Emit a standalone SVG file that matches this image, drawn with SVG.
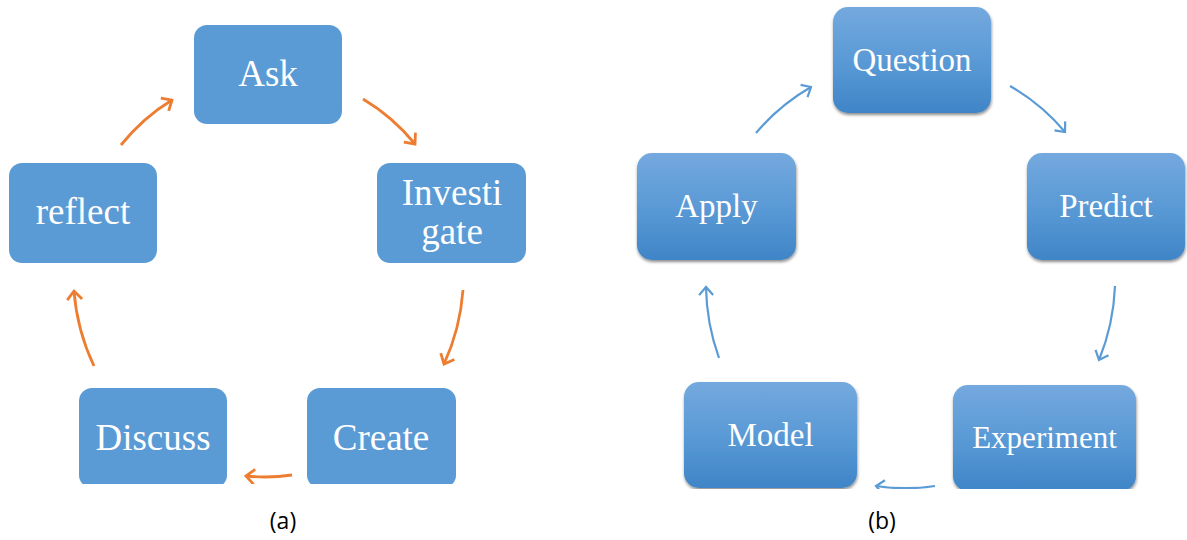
<svg xmlns="http://www.w3.org/2000/svg" width="1187" height="540" viewBox="0 0 1187 540">
<style>
.boxA{fill:#5B9BD5;}
.boxB{fill:url(#gradB);filter:url(#shadow);}
.lblA{font-family:"Liberation Serif","Times New Roman",serif;font-size:37px;fill:#ffffff;text-anchor:middle;}
.lblB{font-family:"Liberation Serif","Times New Roman",serif;font-size:33px;fill:#ffffff;text-anchor:middle;}
.arrA{fill:none;stroke:#ED7D31;stroke-width:2.8;marker-end:url(#headA);}
.arrB{fill:none;stroke:#5B9BD5;stroke-width:2.2;marker-end:url(#headB);}
.cap{font-family:"Open Sans","Liberation Sans",sans-serif;font-size:23px;fill:#000000;text-anchor:middle;}
</style>
<defs>
<linearGradient id="gradB" x1="0" y1="0" x2="0" y2="1">
<stop offset="0" stop-color="#74A9DE"/>
<stop offset="0.5" stop-color="#5A9AD6"/>
<stop offset="1" stop-color="#3F85C7"/>
</linearGradient>
<filter id="shadow" x="-10%" y="-10%" width="120%" height="130%">
<feDropShadow dx="0.5" dy="2" stdDeviation="1.6" flood-color="#000000" flood-opacity="0.45"/>
</filter>
<marker id="headA" viewBox="0 0 20 20" refX="10" refY="10" markerWidth="20" markerHeight="20" markerUnits="userSpaceOnUse" orient="auto" overflow="visible">
<path d="M1.5,2.5 L10,10 L1.5,17.5" fill="none" stroke="#ED7D31" stroke-width="2.8"/>
</marker>
<marker id="headB" viewBox="0 0 20 20" refX="10" refY="10" markerWidth="20" markerHeight="20" markerUnits="userSpaceOnUse" orient="auto" overflow="visible">
<path d="M2,3 L10,10 L2,17" fill="none" stroke="#5B9BD5" stroke-width="2.2"/>
</marker>
<clipPath id="clipA"><rect x="0" y="0" width="600" height="484"/></clipPath>
<clipPath id="clipB"><rect x="600" y="0" width="587" height="489"/></clipPath>
</defs>
<rect x="0" y="0" width="1187" height="540" fill="#ffffff"/>

<g id="panel-a" clip-path="url(#clipA)">
<g id="connectors-a">
<path class="arrA" d="M121,145 A195,205 0 0 1 172,100"/>
<path class="arrA" d="M363,99 A195,205 0 0 1 415,144"/>
<path class="arrA" d="M463,290 A195,205 0 0 1 444,364"/>
<path class="arrA" d="M292,475 A195,205 0 0 1 246,476"/>
<path class="arrA" d="M94,366 A195,205 0 0 1 74,291"/>
</g>
<g id="node-ask"><rect class="boxA" x="194" y="25" width="148" height="99" rx="13"/><text class="lblA" x="268" y="86">Ask</text></g>
<g id="node-investigate"><rect class="boxA" x="377" y="163" width="149" height="100" rx="13"/><text class="lblA" x="452" y="205">Investi</text><text class="lblA" x="452" y="244">gate</text></g>
<g id="node-create"><rect class="boxA" x="307" y="388" width="149" height="100" rx="13"/><text class="lblA" x="381" y="450">Create</text></g>
<g id="node-discuss"><rect class="boxA" x="79" y="388" width="148" height="100" rx="13"/><text class="lblA" x="153" y="450">Discuss</text></g>
<g id="node-reflect"><rect class="boxA" x="9" y="163" width="148" height="100" rx="13"/><text class="lblA" x="83" y="224">reflect</text></g>
</g>

<g id="panel-b" clip-path="url(#clipB)">
<g id="connectors-b">
<path class="arrB" d="M756,133 A205,212 0 0 1 811,87"/>
<path class="arrB" d="M1010,86 A205,212 0 0 1 1065,132"/>
<path class="arrB" d="M1115,286 A205,212 0 0 1 1099,360"/>
<path class="arrB" d="M935,486 A205,212 0 0 1 876,486"/>
<path class="arrB" d="M719,358 A205,212 0 0 1 706,287"/>
</g>
<g id="node-question"><rect class="boxB" x="833" y="7" width="158" height="106" rx="15"/><text class="lblB" x="912" y="71">Question</text></g>
<g id="node-predict"><rect class="boxB" x="1027" y="153" width="158" height="107" rx="15"/><text class="lblB" x="1106" y="217">Predict</text></g>
<g id="node-experiment"><rect class="boxB" x="953" y="385" width="183" height="106" rx="15"/><text class="lblB" x="1044.5" y="448" style="font-size:31px">Experiment</text></g>
<g id="node-model"><rect class="boxB" x="684" y="382" width="173" height="106" rx="15"/><text class="lblB" x="770.5" y="446">Model</text></g>
<g id="node-apply"><rect class="boxB" x="637" y="153" width="159" height="107" rx="15"/><text class="lblB" x="716.5" y="217">Apply</text></g>
</g>

<text class="cap" x="283" y="529">(a)</text>
<text class="cap" x="882" y="529">(b)</text>
</svg>
